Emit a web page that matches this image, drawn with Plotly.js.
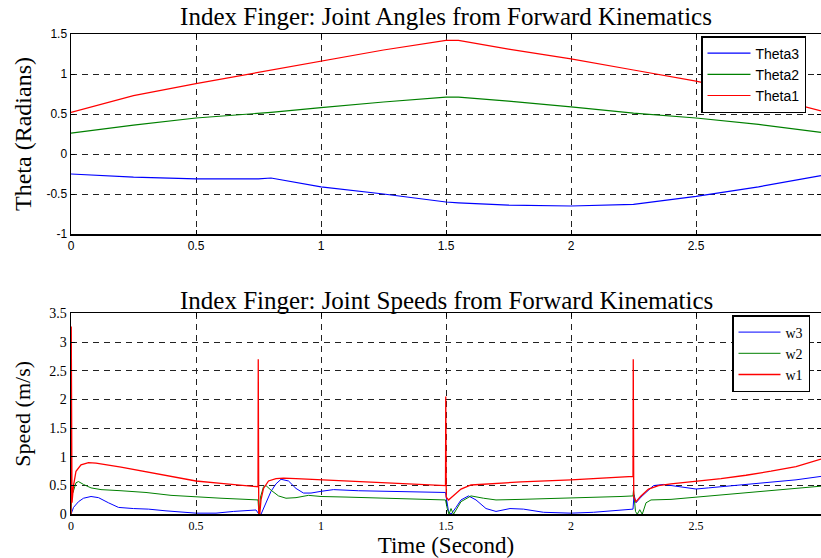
<!DOCTYPE html>
<html>
<head>
<meta charset="utf-8">
<script src="https://cdn.plot.ly/plotly-3.0.1.min.js"></script>
<style>html,body{margin:0;padding:0;background:#fff;}#chart{width:821px;height:558px;}</style>
</head>
<body>
<div id="chart"></div>
<script>
// ---- Joint angles (top panel) ----
const tAngle = [0, 0.25, 0.5, 0.75, 0.8, 1.0, 1.25, 1.5, 1.55, 1.75, 2.0, 2.25, 2.5, 2.75, 3.0];
const theta1 = [0.52, 0.73, 0.88, 1.02, 1.05, 1.16, 1.30, 1.42, 1.42, 1.31, 1.19, 1.05, 0.91, 0.74, 0.54];
const theta2 = [0.26, 0.36, 0.45, 0.51, 0.52, 0.58, 0.65, 0.71, 0.71, 0.66, 0.59, 0.51, 0.45, 0.37, 0.27];
const theta3 = [-0.25, -0.29, -0.31, -0.31, -0.30, -0.41, -0.50, -0.60, -0.61, -0.64, -0.65, -0.63, -0.53, -0.41, -0.27];

// ---- Joint speeds (bottom panel) ----
const tW1 = [0, 0.001, 0.004, 0.01, 0.02, 0.04, 0.07, 0.1, 0.2, 0.25, 0.3, 0.4, 0.5, 0.6, 0.7, 0.748, 0.749, 0.751, 0.755, 0.76, 0.77, 0.79, 0.82, 0.85, 0.9, 1.0, 1.2, 1.36, 1.498, 1.499, 1.501, 1.51, 1.53, 1.56, 1.6, 1.7, 1.75, 1.8, 2.0, 2.2, 2.248, 2.249, 2.251, 2.26, 2.28, 2.31, 2.35, 2.4, 2.5, 2.6, 2.7, 2.75, 2.8, 2.9, 3.0];
const w1 = [0, 3.27, 0.2, 0.5, 0.75, 0.86, 0.9, 0.89, 0.82, 0.78, 0.74, 0.66, 0.58, 0.54, 0.5, 0.48, 2.7, 0.02, 0.0, 0.25, 0.45, 0.58, 0.62, 0.63, 0.62, 0.6, 0.56, 0.53, 0.5, 2.05, 0.3, 0.25, 0.33, 0.44, 0.51, 0.54, 0.56, 0.565, 0.6, 0.645, 0.66, 2.7, 0.3, 0.22, 0.32, 0.44, 0.5, 0.53, 0.57, 0.62, 0.68, 0.71, 0.75, 0.83, 0.96];

const tW2 = [0, 0.003, 0.008, 0.02, 0.03, 0.05, 0.08, 0.12, 0.2, 0.3, 0.4, 0.5, 0.6, 0.7, 0.748, 0.752, 0.758, 0.77, 0.78, 0.8, 0.83, 0.86, 0.9, 0.95, 1.0, 1.1, 1.2, 1.36, 1.498, 1.505, 1.512, 1.52, 1.53, 1.56, 1.6, 1.65, 1.7, 1.8, 2.0, 2.2, 2.248, 2.25, 2.258, 2.265, 2.275, 2.285, 2.3, 2.32, 2.4, 2.5, 2.6, 2.7, 2.8, 2.9, 3.0];
const w2 = [0, 0.45, 0.38, 0.55, 0.57, 0.52, 0.46, 0.43, 0.41, 0.38, 0.33, 0.3, 0.28, 0.26, 0.25, 0.0, 0.3, 0.48, 0.5, 0.42, 0.32, 0.28, 0.29, 0.33, 0.31, 0.3, 0.29, 0.27, 0.25, 0.1, 0.0, 0.1, 0.0, 0.22, 0.32, 0.28, 0.25, 0.26, 0.28, 0.31, 0.32, 0.42, 0.05, 0.0, 0.08, 0.0, 0.2, 0.25, 0.26, 0.3, 0.33, 0.37, 0.41, 0.45, 0.49];

const tW3 = [0, 0.01, 0.03, 0.05, 0.08, 0.11, 0.15, 0.19, 0.25, 0.31, 0.38, 0.45, 0.5, 0.58, 0.65, 0.74, 0.752, 0.76, 0.78, 0.8, 0.82, 0.84, 0.87, 0.9, 0.93, 0.96, 1.0, 1.05, 1.15, 1.25, 1.36, 1.498, 1.51, 1.52, 1.54, 1.56, 1.59, 1.62, 1.66, 1.7, 1.756, 1.81, 1.89, 1.96, 2.0, 2.09, 2.248, 2.252, 2.26, 2.28, 2.31, 2.33, 2.37, 2.45, 2.5, 2.55, 2.6, 2.75, 2.9, 3.0];
const w3 = [0, 0.12, 0.22, 0.28, 0.31, 0.29, 0.2, 0.12, 0.1, 0.09, 0.06, 0.03, 0.02, 0.02, 0.05, 0.075, 0.0, 0.0, 0.2, 0.4, 0.53, 0.61, 0.58, 0.45, 0.37, 0.37, 0.4, 0.43, 0.41, 0.4, 0.39, 0.38, 0.05, 0.0, 0.12, 0.25, 0.32, 0.25, 0.1, 0.05, 0.1, 0.09, 0.035, 0.02, 0.02, 0.035, 0.09, 0.34, 0.2, 0.3, 0.43, 0.5, 0.52, 0.47, 0.44, 0.46, 0.48, 0.53, 0.6, 0.66];

// ---- Ticks & labels ----
const xTicks = [0, 0.5, 1, 1.5, 2, 2.5, 3];
const xTickText = ['0', '0.5', '1', '1.5', '2', '2.5', '3'];
const yTicksTop = [-1, -0.5, 0, 0.5, 1, 1.5];
const yTickTextTop = ['-1', '-0.5', '0', '0.5', '1', '1.5'];
const yTicksBot = [0, 0.5, 1, 1.5, 2, 2.5, 3, 3.5];
const yTickTextBot = ['0', '0.5', '1', '1.5', '2', '2.5', '3', '3.5'];

const titleTop = 'Index Finger: Joint Angles from Forward Kinematics';
const titleBot = 'Index Finger: Joint Speeds from Forward Kinematics';

const BLUE = '#0000ff', GREEN = '#008000', RED = '#ff0000';
const serif = 'Liberation Serif, Times New Roman, serif';
const sans = 'Liberation Sans, Arial, sans-serif';

const traces = [
  {x: tAngle, y: theta3, name: 'Theta3', type: 'scatter', mode: 'lines', line: {color: BLUE, width: 1.2}, xaxis: 'x', yaxis: 'y', legend: 'legend'},
  {x: tAngle, y: theta2, name: 'Theta2', type: 'scatter', mode: 'lines', line: {color: GREEN, width: 1.2}, xaxis: 'x', yaxis: 'y', legend: 'legend'},
  {x: tAngle, y: theta1, name: 'Theta1', type: 'scatter', mode: 'lines', line: {color: RED, width: 1.2}, xaxis: 'x', yaxis: 'y', legend: 'legend'},
  {x: tW3, y: w3, name: 'w3', type: 'scatter', mode: 'lines', line: {color: BLUE, width: 1}, xaxis: 'x2', yaxis: 'y2', legend: 'legend2'},
  {x: tW2, y: w2, name: 'w2', type: 'scatter', mode: 'lines', line: {color: GREEN, width: 1}, xaxis: 'x2', yaxis: 'y2', legend: 'legend2'},
  {x: tW1, y: w1, name: 'w1', type: 'scatter', mode: 'lines', line: {color: RED, width: 1.3}, xaxis: 'x2', yaxis: 'y2', legend: 'legend2'}
];

const gridCommon = {
  showgrid: true, gridcolor: '#222', griddash: '6px,5px', gridwidth: 1,
  zeroline: false, showline: true, linecolor: '#000', linewidth: 1.5, mirror: 'ticks',
  ticks: 'inside', ticklen: 4, tickcolor: '#000', automargin: false
};

const H = 558;
const layout = {
  width: 821, height: 558,
  margin: {l: 71, r: 0, t: 0, b: 0},
  paper_bgcolor: '#fff', plot_bgcolor: '#fff',
  title: {text: titleTop, font: {family: serif, size: 25, color: '#000'}, x: 0.5, xref: 'paper', y: 1 - 16 / H, yref: 'container', yanchor: 'middle'},
  xaxis: Object.assign({}, gridCommon, {domain: [0, 1], range: [0, 3], tickvals: xTicks, ticktext: xTickText, anchor: 'y',
    tickfont: {family: sans, size: 12, color: '#000'}}),
  yaxis: Object.assign({}, gridCommon, {domain: [1 - 234 / H, 1 - 34 / H], range: [-1, 1.5], tickvals: yTicksTop, ticktext: yTickTextTop, anchor: 'x',
    tickfont: {family: sans, size: 12, color: '#000'},
    title: {text: 'Theta (Radians)', font: {family: serif, size: 24, color: '#000'}, standoff: 8}}),
  xaxis2: Object.assign({}, gridCommon, {domain: [0, 1], range: [0, 3], tickvals: xTicks, ticktext: xTickText, anchor: 'y2',
    tickfont: {family: serif, size: 12, color: '#000'},
    title: {text: 'Time (Second)', font: {family: serif, size: 23, color: '#000'}, standoff: 10}}),
  yaxis2: Object.assign({}, gridCommon, {domain: [1 - 514.3 / H, 1 - 313.3 / H], range: [0, 3.5], tickvals: yTicksBot, ticktext: yTickTextBot, anchor: 'x2',
    tickfont: {family: serif, size: 14, color: '#000'},
    title: {text: 'Speed (m/s)', font: {family: serif, size: 22, color: '#000'}, standoff: 12}}),
  legend: {x: (701 - 71) / 750, y: 1 - 36 / H, xanchor: 'left', yanchor: 'top', bgcolor: '#fff', bordercolor: '#000', borderwidth: 1.5,
    font: {family: sans, size: 14, color: '#000'}, itemwidth: 43, traceorder: 'normal'},
  legend2: {x: (732 - 71) / 750, y: 1 - 315 / H, xanchor: 'left', yanchor: 'top', bgcolor: '#fff', bordercolor: '#000', borderwidth: 1.5,
    font: {family: serif, size: 14, color: '#000'}, itemwidth: 42, traceorder: 'normal'},
  annotations: [
    {text: titleBot, xref: 'paper', yref: 'paper', x: 0.5, y: 1 - 300 / H, xanchor: 'center', yanchor: 'middle', showarrow: false,
      font: {family: serif, size: 25, color: '#000'}}
  ],
  showlegend: true
};

Plotly.newPlot('chart', traces, layout, {displayModeBar: false, staticPlot: true});
</script>
</body>
</html>
